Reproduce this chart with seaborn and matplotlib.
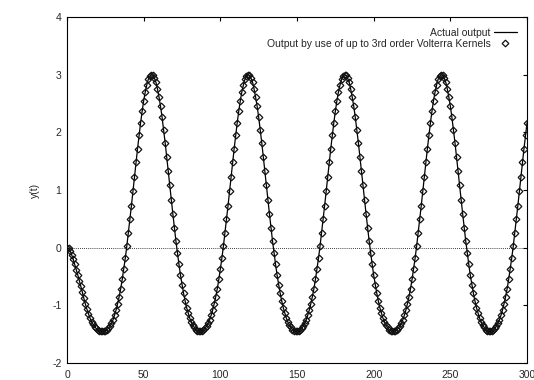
import numpy as np
import pandas as pd
import matplotlib
matplotlib.use("Agg")
import matplotlib.pyplot as plt
import seaborn as sns

# estilo tipo gnuplot
sns.set_style("white")
plt.rcParams['font.family'] = ['Liberation Sans', 'DejaVu Sans']
plt.rcParams['font.size'] = 7.5
plt.rcParams['axes.unicode_minus'] = False

# eje de tiempo (una muestra por unidad)
t = list(range(0, 301))

# transitorio inicial, t = 0..23
y_start = [0.00, -0.01, -0.05, -0.12, -0.20, -0.29, -0.38, -0.47, -0.57, -0.67,
           -0.77, -0.88, -0.98, -1.07, -1.15, -1.22, -1.28, -1.33, -1.37, -1.40,
           -1.42, -1.44, -1.45, -1.45]

# ciclos (valle -> pico -> valle)
y_cycle_1 = [-1.45, -1.44, -1.42, -1.40, -1.36, -1.31, -1.25, -1.17, -1.08, -0.97,
             -0.85, -0.71, -0.55, -0.37, -0.18, 0.03, 0.26, 0.49, 0.73, 0.98,
             1.23, 1.48, 1.72, 1.95, 2.17, 2.37, 2.55, 2.70, 2.82, 2.92,
             2.97, 3.00, 2.99, 2.94, 2.87, 2.75, 2.61, 2.45, 2.26, 2.04,
             1.82, 1.58, 1.33, 1.08, 0.83, 0.59, 0.35, 0.12, -0.09, -0.29,
             -0.48, -0.64, -0.79, -0.92, -1.04, -1.13, -1.22, -1.29, -1.34, -1.38,
             -1.42, -1.44, -1.45]
y_cycle_2 = [-1.45, -1.44, -1.42, -1.40, -1.36, -1.31, -1.25, -1.17, -1.08, -0.97,
             -0.85, -0.71, -0.55, -0.37, -0.18, 0.03, 0.26, 0.49, 0.73, 0.98,
             1.23, 1.48, 1.72, 1.95, 2.17, 2.37, 2.55, 2.70, 2.82, 2.92,
             2.97, 3.00, 2.99, 2.94, 2.87, 2.75, 2.61, 2.45, 2.26, 2.04,
             1.82, 1.58, 1.33, 1.08, 0.83, 0.59, 0.35, 0.12, -0.09, -0.29,
             -0.48, -0.64, -0.79, -0.92, -1.04, -1.13, -1.22, -1.29, -1.34, -1.38,
             -1.42, -1.44, -1.45]
y_cycle_3 = [-1.45, -1.44, -1.42, -1.40, -1.36, -1.31, -1.25, -1.17, -1.08, -0.97,
             -0.85, -0.71, -0.55, -0.37, -0.18, 0.03, 0.26, 0.49, 0.73, 0.98,
             1.23, 1.48, 1.72, 1.95, 2.17, 2.37, 2.55, 2.70, 2.82, 2.92,
             2.97, 3.00, 2.99, 2.94, 2.87, 2.75, 2.61, 2.45, 2.26, 2.04,
             1.82, 1.58, 1.33, 1.08, 0.83, 0.59, 0.35, 0.12, -0.09, -0.29,
             -0.48, -0.64, -0.79, -0.92, -1.04, -1.13, -1.22, -1.29, -1.34, -1.38,
             -1.42, -1.44, -1.45]
y_cycle_4 = [-1.45, -1.44, -1.42, -1.40, -1.36, -1.31, -1.25, -1.17, -1.08, -0.97,
             -0.85, -0.71, -0.55, -0.37, -0.18, 0.03, 0.26, 0.49, 0.73, 0.98,
             1.23, 1.48, 1.72, 1.95, 2.17, 2.37, 2.55, 2.70, 2.82, 2.92,
             2.97, 3.00, 2.99, 2.94, 2.87, 2.75, 2.61, 2.45, 2.26, 2.04,
             1.82, 1.58, 1.33, 1.08, 0.83, 0.59, 0.35, 0.12, -0.09, -0.29,
             -0.48, -0.64, -0.79, -0.92, -1.04, -1.13, -1.22, -1.29, -1.34, -1.38,
             -1.42, -1.44, -1.45]
# ultimo tramo, t = 276..300
y_end = [-1.45, -1.44, -1.42, -1.40, -1.36, -1.31, -1.25, -1.17, -1.08, -0.97,
         -0.85, -0.71, -0.55, -0.37, -0.18, 0.03, 0.26, 0.49, 0.73, 0.98,
         1.23, 1.48, 1.72, 1.95, 2.17]

y_actual = y_start + y_cycle_1 + y_cycle_2 + y_cycle_3 + y_cycle_4 + y_end
# la salida con kernels de Volterra coincide con la real a esta escala
y_volterra = list(y_actual)

x_ticks = [0, 50, 100, 150, 200, 250, 300]
y_ticks = [-2, -1, 0, 1, 2, 3, 4]

df = pd.DataFrame({'t': t, 'actual': y_actual, 'volterra': y_volterra})

fig, ax = plt.subplots(figsize=(5.34, 3.8), dpi=100)
fig.subplots_adjust(left=0.1255, right=0.987, bottom=0.0447, top=0.955)

# linea de cero punteada
ax.axhline(0, color='black', lw=0.6, ls=(0, (1, 1.5)), zorder=1)

sns.lineplot(data=df, x='t', y='actual', color='black', lw=0.9,
             label='Actual output', ax=ax, zorder=2)
sns.lineplot(data=df, x='t', y='volterra', color='black', linestyle='',
             marker='D', markersize=3.4, markerfacecolor='none',
             markeredgecolor='#111111', markeredgewidth=0.9,
             label='Output by use of up to 3rd order Volterra Kernels', ax=ax, zorder=3)

ax.set_xlim(0, 300)
ax.set_ylim(-2, 4)
ax.set_xticks(x_ticks)
ax.set_yticks(y_ticks)
ax.set_xlabel('')
ax.set_ylabel('y(t)', labelpad=9)

for s in ax.spines.values():
    s.set_visible(True)
    s.set_linewidth(0.8)
    s.set_color('black')

ax.tick_params(axis='both', direction='in', top=True, right=True,
               length=3, width=0.8, color='black', labelsize=7.5)
ax.tick_params(axis='x', pad=5)
ax.tick_params(axis='y', pad=4)

handles, labels = ax.get_legend_handles_labels()
ax.legend(handles, labels, loc='upper right', frameon=False, markerfirst=False,
          handlelength=2.2, handletextpad=0.3, labelspacing=0.1,
          borderaxespad=0.6, fontsize=7.5)

plt.savefig('out.png', dpi=100)
